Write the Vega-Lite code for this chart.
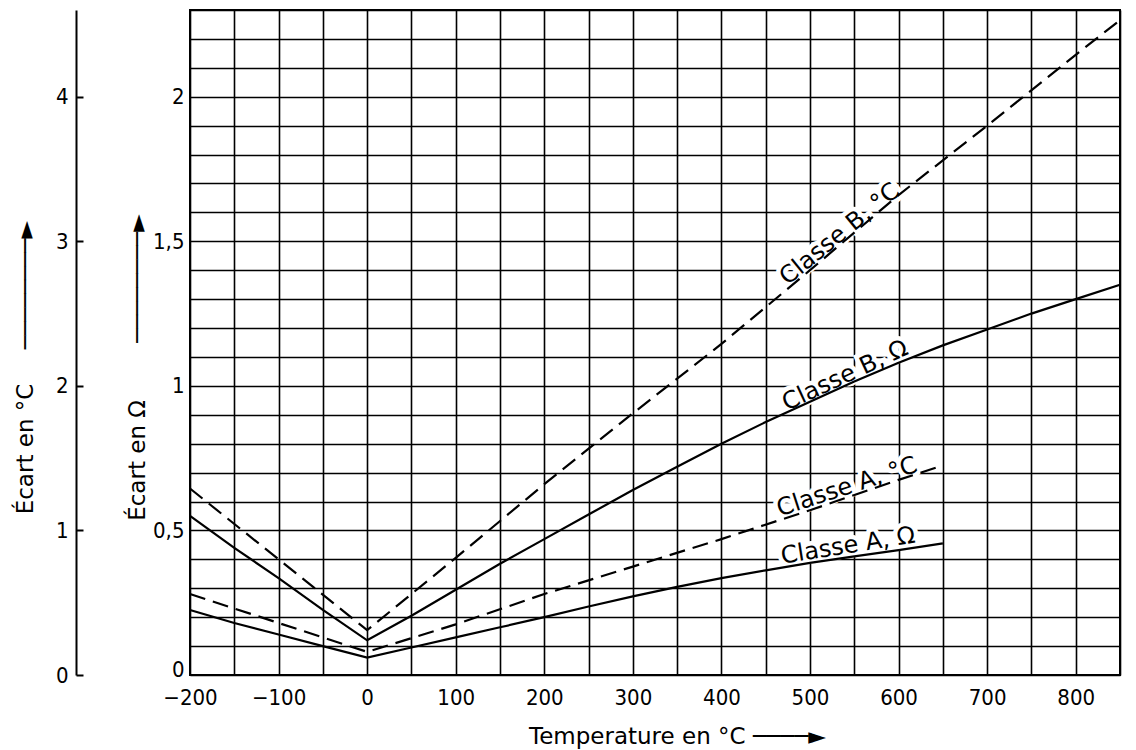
{
  "$schema": "https://vega.github.io/schema/vega-lite/v6.json",
  "width": 930,
  "height": 665,
  "autosize": "none",
  "padding": {"left": 190, "top": 10, "right": 16, "bottom": 75},
  "background": "white",
  "config": {
    "view": {"stroke": "black", "strokeWidth": 2},
    "font": "DejaVu Sans",
    "axis": {"labelFont": "DejaVu Sans Condensed, DejaVu Sans", "titleFont": "DejaVu Sans", "labelColor": "black", "titleColor": "black", "titleFontWeight": "normal"},
    "text": {"font": "DejaVu Sans"}
  },
  "datasets": {
    "ohm": [
      {"series": "Classe B, Ω", "t": -200, "v": 0.55},
      {"series": "Classe B, Ω", "t": -150, "v": 0.44},
      {"series": "Classe B, Ω", "t": -100, "v": 0.335},
      {"series": "Classe B, Ω", "t": -50, "v": 0.225},
      {"series": "Classe B, Ω", "t": 0, "v": 0.12},
      {"series": "Classe B, Ω", "t": 50, "v": 0.205},
      {"series": "Classe B, Ω", "t": 100, "v": 0.295},
      {"series": "Classe B, Ω", "t": 150, "v": 0.385},
      {"series": "Classe B, Ω", "t": 200, "v": 0.47},
      {"series": "Classe B, Ω", "t": 250, "v": 0.555},
      {"series": "Classe B, Ω", "t": 300, "v": 0.64},
      {"series": "Classe B, Ω", "t": 350, "v": 0.72},
      {"series": "Classe B, Ω", "t": 400, "v": 0.8},
      {"series": "Classe B, Ω", "t": 450, "v": 0.875},
      {"series": "Classe B, Ω", "t": 500, "v": 0.945},
      {"series": "Classe B, Ω", "t": 550, "v": 1.015},
      {"series": "Classe B, Ω", "t": 600, "v": 1.08},
      {"series": "Classe B, Ω", "t": 650, "v": 1.14},
      {"series": "Classe B, Ω", "t": 700, "v": 1.195},
      {"series": "Classe B, Ω", "t": 750, "v": 1.25},
      {"series": "Classe B, Ω", "t": 800, "v": 1.3},
      {"series": "Classe B, Ω", "t": 850, "v": 1.35},
      {"series": "Classe A, Ω", "t": -200, "v": 0.225},
      {"series": "Classe A, Ω", "t": -150, "v": 0.18},
      {"series": "Classe A, Ω", "t": -100, "v": 0.14},
      {"series": "Classe A, Ω", "t": -50, "v": 0.1},
      {"series": "Classe A, Ω", "t": 0, "v": 0.06},
      {"series": "Classe A, Ω", "t": 50, "v": 0.095},
      {"series": "Classe A, Ω", "t": 100, "v": 0.13},
      {"series": "Classe A, Ω", "t": 150, "v": 0.165},
      {"series": "Classe A, Ω", "t": 200, "v": 0.2},
      {"series": "Classe A, Ω", "t": 250, "v": 0.237},
      {"series": "Classe A, Ω", "t": 300, "v": 0.272},
      {"series": "Classe A, Ω", "t": 350, "v": 0.305},
      {"series": "Classe A, Ω", "t": 400, "v": 0.335},
      {"series": "Classe A, Ω", "t": 450, "v": 0.362},
      {"series": "Classe A, Ω", "t": 500, "v": 0.388},
      {"series": "Classe A, Ω", "t": 550, "v": 0.41},
      {"series": "Classe A, Ω", "t": 600, "v": 0.432},
      {"series": "Classe A, Ω", "t": 650, "v": 0.455}
    ],
    "deg": [
      {"series": "Classe B, °C", "t": -200, "v": 1.29},
      {"series": "Classe B, °C", "t": -100, "v": 0.8},
      {"series": "Classe B, °C", "t": 0, "v": 0.31},
      {"series": "Classe B, °C", "t": 100, "v": 0.81},
      {"series": "Classe B, °C", "t": 200, "v": 1.32},
      {"series": "Classe B, °C", "t": 300, "v": 1.81},
      {"series": "Classe B, °C", "t": 400, "v": 2.29},
      {"series": "Classe B, °C", "t": 500, "v": 2.8},
      {"series": "Classe B, °C", "t": 600, "v": 3.32},
      {"series": "Classe B, °C", "t": 700, "v": 3.8},
      {"series": "Classe B, °C", "t": 800, "v": 4.29},
      {"series": "Classe B, °C", "t": 850, "v": 4.53},
      {"series": "Classe A, °C", "t": -200, "v": 0.56},
      {"series": "Classe A, °C", "t": -100, "v": 0.36},
      {"series": "Classe A, °C", "t": 0, "v": 0.16},
      {"series": "Classe A, °C", "t": 100, "v": 0.35},
      {"series": "Classe A, °C", "t": 200, "v": 0.56},
      {"series": "Classe A, °C", "t": 300, "v": 0.75},
      {"series": "Classe A, °C", "t": 400, "v": 0.94},
      {"series": "Classe A, °C", "t": 500, "v": 1.14},
      {"series": "Classe A, °C", "t": 600, "v": 1.35},
      {"series": "Classe A, °C", "t": 650, "v": 1.45}
    ],
    "labels": [
      {"label": "Classe B, °C", "t": 540, "v": 3.0},
      {"label": "Classe A, °C", "t": 545, "v": 1.24},
      {"label": "Classe B, Ω", "t": 545, "v": 1.0},
      {"label": "Classe A, Ω", "t": 545, "v": 0.408}
    ]
  },
  "encoding": {
    "x": {"field": "t", "type": "quantitative", "scale": {"domain": [-200, 850], "nice": false, "zero": false},
      "axis": {
        "values": [-200, -150, -100, -50, 0, 50, 100, 150, 200, 250, 300, 350, 400, 450, 500, 550, 600, 650, 700, 750, 800, 850],
        "labelExpr": "datum.value % 100 == 0 ? datum.label : ''",
        "grid": true, "gridColor": "black", "gridWidth": 1.6, "gridOpacity": 1,
        "ticks": false, "domain": false,
        "labelFontSize": 22, "labelPadding": 12, "labelFlush": false, "labelOverlap": false,
        "title": "Temperature en °C ────►", "titleFontSize": 23, "titleX": 487, "titleY": 50, "titleAlign": "center", "titleBaseline": "top"
      }}
  },
  "layer": [
    {
      "encoding": {
        "y": {"field": "v", "type": "quantitative", "scale": {"domain": [0, 2.3], "nice": false, "zero": true},
          "axis": {
            "orient": "left",
            "values": [0, 0.1, 0.2, 0.3, 0.4, 0.5, 0.6, 0.7, 0.8, 0.9, 1, 1.1, 1.2, 1.3, 1.4, 1.5, 1.6, 1.7, 1.8, 1.9, 2, 2.1, 2.2, 2.3],
            "labelExpr": "abs(datum.value*2 - round(datum.value*2)) < 0.001 ? replace(format(datum.value, '~g'), '.', ',') : ''",
            "labelOffset": {"condition": {"test": "datum.value == 0", "value": -6}, "value": 0},
            "grid": true, "gridColor": "black", "gridWidth": 1.6, "gridOpacity": 1,
            "ticks": false, "domain": false,
            "labelFontSize": 22, "labelPadding": 6, "labelFlush": false, "labelOverlap": false,
            "title": "Écart en Ω\u2003\u2003\u2002────────►", "titleFontSize": 23, "titleAngle": -90,
            "titleX": -53, "titleY": 357, "titleAlign": "center", "titleBaseline": "middle"
          }}
      },
      "layer": [
        {"data": {"name": "labels"}, "transform": [{"filter": "datum.label == 'Classe B, Ω'"}],
          "mark": {"type": "text", "angle": 335, "fontSize": 24, "align": "center", "baseline": "alphabetic", "dy": -4, "fill": "white", "stroke": "white", "strokeWidth": 9},
          "encoding": {"text": {"field": "label"}}},
        {"data": {"name": "labels"}, "transform": [{"filter": "datum.label == 'Classe A, Ω'"}],
          "mark": {"type": "text", "angle": 351, "fontSize": 24, "align": "center", "baseline": "alphabetic", "dy": -4, "fill": "white", "stroke": "white", "strokeWidth": 9},
          "encoding": {"text": {"field": "label"}}},
        {"data": {"name": "ohm"},
          "mark": {"type": "line", "color": "black", "strokeWidth": 2.2},
          "encoding": {"detail": {"field": "series"}}},
        {"data": {"name": "labels"}, "transform": [{"filter": "datum.label == 'Classe B, Ω'"}],
          "mark": {"type": "text", "angle": 335, "fontSize": 24, "align": "center", "baseline": "alphabetic", "dy": -4, "fill": "black"},
          "encoding": {"text": {"field": "label"}}},
        {"data": {"name": "labels"}, "transform": [{"filter": "datum.label == 'Classe A, Ω'"}],
          "mark": {"type": "text", "angle": 351, "fontSize": 24, "align": "center", "baseline": "alphabetic", "dy": -4, "fill": "black"},
          "encoding": {"text": {"field": "label"}}}
      ]
    },
    {
      "encoding": {
        "y": {"field": "v", "type": "quantitative", "scale": {"domain": [0, 4.6], "nice": false, "zero": true},
          "axis": {
            "orient": "left", "offset": 114,
            "values": [0, 1, 2, 3, 4],
            "grid": false,
            "domain": true, "domainColor": "black", "domainWidth": 2,
            "ticks": true, "tickSize": -7, "tickColor": "black", "tickWidth": 2,
            "labelFontSize": 22, "labelPadding": 15, "labelFlush": false, "labelOverlap": false,
            "title": "Écart en °C\u2003\u2002────────►", "titleFontSize": 23, "titleAngle": -90,
            "titleX": -51, "titleY": 357, "titleAlign": "center", "titleBaseline": "middle"
          }}
      },
      "layer": [
        {"data": {"name": "labels"}, "transform": [{"filter": "datum.label == 'Classe B, °C'"}],
          "mark": {"type": "text", "angle": 321, "fontSize": 24, "align": "center", "baseline": "alphabetic", "dy": -2, "fill": "white", "stroke": "white", "strokeWidth": 9},
          "encoding": {"text": {"field": "label"}}},
        {"data": {"name": "labels"}, "transform": [{"filter": "datum.label == 'Classe A, °C'"}],
          "mark": {"type": "text", "angle": 342, "fontSize": 24, "align": "center", "baseline": "alphabetic", "dy": -2, "fill": "white", "stroke": "white", "strokeWidth": 9},
          "encoding": {"text": {"field": "label"}}},
        {"data": {"name": "deg"},
          "mark": {"type": "line", "color": "black", "strokeWidth": 2.2, "strokeDash": [16, 8]},
          "encoding": {"detail": {"field": "series"}}},
        {"data": {"name": "labels"}, "transform": [{"filter": "datum.label == 'Classe B, °C'"}],
          "mark": {"type": "text", "angle": 321, "fontSize": 24, "align": "center", "baseline": "alphabetic", "dy": -2, "fill": "black"},
          "encoding": {"text": {"field": "label"}}},
        {"data": {"name": "labels"}, "transform": [{"filter": "datum.label == 'Classe A, °C'"}],
          "mark": {"type": "text", "angle": 342, "fontSize": 24, "align": "center", "baseline": "alphabetic", "dy": -2, "fill": "black"},
          "encoding": {"text": {"field": "label"}}}
      ]
    }
  ],
  "resolve": {"scale": {"y": "independent"}, "axis": {"y": "independent"}}
}
